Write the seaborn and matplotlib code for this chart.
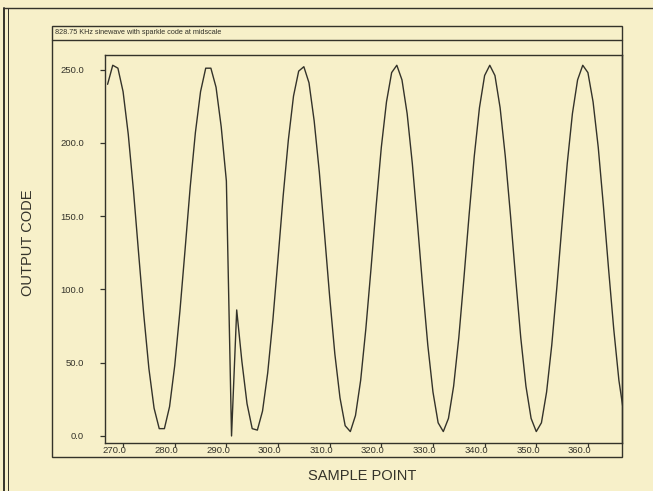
import matplotlib
matplotlib.use("Agg")
import matplotlib.pyplot as plt
import matplotlib.transforms as mtransforms
from matplotlib.patches import Rectangle
from matplotlib.lines import Line2D
import pandas as pd
import seaborn as sns

# sample index along the x axis
sample_point = list(range(267, 368))

# ADC output code (sparkle at 291)
output_code = [
    240, 253, 251, 235, 206, 168, 125, 83, 46, 19,
    5, 5, 20, 48, 85, 127, 170, 207, 235, 251,
    251, 238, 211, 174, 0, 86, 51, 22, 5, 4,
    17, 43, 79, 121, 164, 202, 232, 249, 252, 241,
    215, 180, 138, 95, 56, 26, 7, 3, 14, 38,
    73, 114, 157, 197, 228, 248, 253, 243, 220, 186,
    145, 102, 62, 30, 9, 3, 12, 34, 67, 108,
    151, 191, 224, 246, 253, 246, 224, 191, 151, 108,
    67, 34, 12, 3, 9, 30, 62, 102, 145, 186,
    220, 243, 253, 248, 228, 197, 157, 114, 73, 38,
    14,
]

x_ticks = [270, 280, 290, 300, 310, 320, 330, 340, 350, 360]
y_ticks = [0, 50, 100, 150, 200, 250]

title = "828.75 KHz sinewave with sparkle code at midscale"

paper = "#f7f0c9"
ink = "#34332a"

sns.set_style("ticks")
plt.rcParams["font.family"] = ["Liberation Sans", "DejaVu Sans"]

df = pd.DataFrame({"sample": sample_point, "code": output_code})

W, H = 653, 491
fig = plt.figure(figsize=(W / 100, H / 100), dpi=100, facecolor=paper)

def fx(px):
    return px / W

def fy(py):
    return 1 - py / H

ax = fig.add_axes([fx(105), fy(443), fx(622) - fx(105), fy(55) - fy(443)])
ax.set_facecolor(paper)

sns.lineplot(data=df, x="sample", y="code", ax=ax, color=ink, linewidth=1.0)

ax.set_xlim(266.5, 366.6)
ax.set_ylim(-4.8, 260)
ax.set_xticks(x_ticks)
ax.set_xticklabels([f"{v:.1f}" for v in x_ticks])
ax.set_yticks(y_ticks)
ax.set_yticklabels([f"{v:.1f}" for v in y_ticks])
ax.set_xlabel("")
ax.set_ylabel("")

for s in ax.spines.values():
    s.set_color(ink)
    s.set_linewidth(1.0)

ax.tick_params(axis="x", direction="out", length=3, width=0.9, pad=-1,
               colors=ink, labelsize=6.8)
ax.tick_params(axis="y", direction="out", length=3.6, width=0.9, pad=11.5,
               colors=ink, labelsize=6.8)

# plotter style: last digit of the x label sits under the tick
offset = mtransforms.ScaledTranslation(3.5 / 100, 0, fig.dpi_scale_trans)
for lab in ax.get_xticklabels():
    lab.set_horizontalalignment("right")
    lab.set_transform(lab.get_transform() + offset)

# frame around the plot and the title strip
fig.patches.append(Rectangle((fx(52), fy(457)), fx(622) - fx(52), fy(26) - fy(457),
                             transform=fig.transFigure, fill=False,
                             edgecolor=ink, linewidth=1.0))
fig.lines.append(Line2D([fx(52), fx(622)], [fy(40), fy(40)],
                        transform=fig.transFigure, color=ink, linewidth=1.0))

# page edge lines
fig.lines.append(Line2D([fx(4), fx(4)], [fy(8), 0], transform=fig.transFigure,
                        color=ink, linewidth=1.4))
fig.lines.append(Line2D([fx(7.5), fx(7.5)], [fy(8), 0], transform=fig.transFigure,
                        color=ink, linewidth=0.7))
fig.lines.append(Line2D([fx(4), 1], [fy(8), fy(8)], transform=fig.transFigure,
                        color=ink, linewidth=1.0))

fig.text(fx(55), fy(33), title, fontsize=5.2, color=ink, va="center", ha="left")

fig.text(fx(28), fy(243), "OUTPUT CODE", rotation=90, fontsize=10.5,
         color=ink, va="center", ha="center")
fig.text(fx(362), fy(476), "SAMPLE POINT", fontsize=10.5,
         color=ink, va="center", ha="center")

fig.savefig("out.png", dpi=100, facecolor=paper)
